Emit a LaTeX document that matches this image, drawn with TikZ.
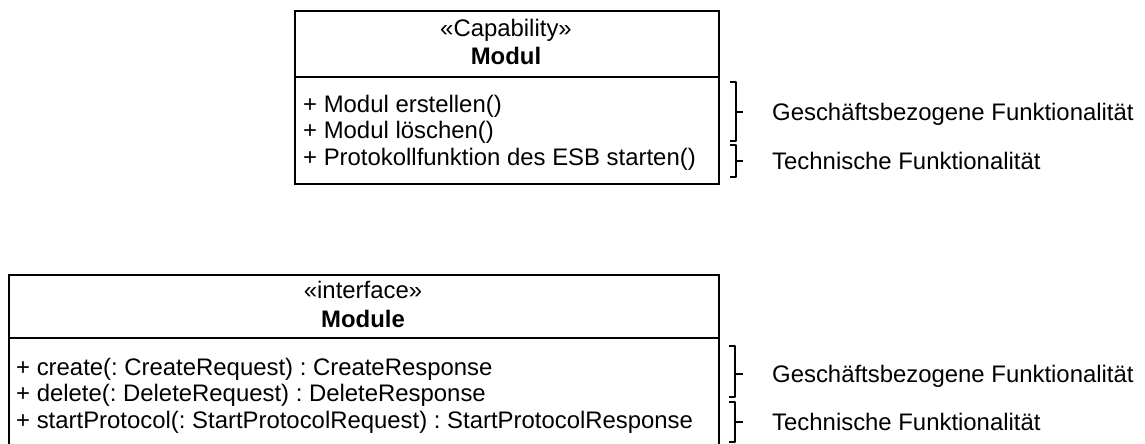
\documentclass[tikz,border=0pt]{standalone}
\usepackage{fontspec}
\setmainfont{Liberation Sans}
\frenchspacing
\begin{document}
\begin{tikzpicture}[x=1pt,y=-1pt,
  classbox/.style={draw=black, line width=2pt, anchor=north west, inner sep=0pt},
  sepline/.style={draw=black, line width=2pt},
  txt/.style={anchor=base west, inner sep=0pt, font=\fontsize{23.9}{28}\selectfont},
  hdr/.style={anchor=base, inner sep=0pt, font=\fontsize{23.9}{28}\selectfont},
  hdrb/.style={anchor=base, inner sep=0pt, font=\fontsize{23.9}{28}\selectfont\bfseries},
  bracepath/.style={draw=black, line width=2pt, line join=round, line cap=butt}]
\useasboundingbox (0,0) rectangle (1145,444);
\clip (0,0) rectangle (1145,444);

% ---------- top class ----------
\node[classbox, minimum width=424pt, minimum height=173pt] (capbox) at (294,10) {};
\coordinate (capsepL) at (294,77);
\coordinate (capsepR) at (718,77);
\draw[sepline] (capsepL) -- (capsepR);
\node[hdr] (capster) at (506,37) {«Capability»};
\node[hdrb] (capname) at (506,65) {Modul};
\node[txt] (capop1) at (303,112) {+ Modul erstellen()};
\node[txt] (capop2) at (303,138.5) {+ Modul löschen()};
\node[txt] (capop3) at (303,165) {+ Protokollfunktion des ESB starten()};

% braces top
\draw[bracepath] (730,82) -- (736,82) -- (736,141) -- (730,141);
\draw[bracepath] (736,112) -- (743,112);
\draw[bracepath] (730,145) -- (736,145) -- (736,177) -- (730,177);
\draw[bracepath] (736,161) -- (743,161);
\node[txt] (capgf) at (772,120.5) {Geschäftsbezogene Funktionalität};
\node[txt] (captf) at (772,169.5) {Technische Funktionalität};

% ---------- bottom interface ----------
\node[classbox, minimum width=710pt, minimum height=200pt] (ifbox) at (8,274) {};
\coordinate (ifsepL) at (8,338);
\coordinate (ifsepR) at (718,338);
\draw[sepline] (ifsepL) -- (ifsepR);
\node[hdr] (ifster) at (363,298) {«interface»};
\node[hdrb] (ifname) at (363,327) {Module};
\node[txt] (ifop1) at (16,375) {+ create(: CreateRequest) : CreateResponse};
\node[txt] (ifop2) at (16,401.5) {+ delete(: DeleteRequest) : DeleteResponse};
\node[txt] (ifop3) at (16,428) {+ startProtocol(: StartProtocolRequest) : StartProtocolResponse};

% braces bottom
\draw[bracepath] (729,346) -- (735,346) -- (735,397) -- (729,397);
\draw[bracepath] (735,374) -- (743,374);
\draw[bracepath] (729,402) -- (735,402) -- (735,442) -- (729,442);
\draw[bracepath] (735,422) -- (743,422);
\node[txt] (ifgf) at (772,382.5) {Geschäftsbezogene Funktionalität};
\node[txt] (iftf) at (772,430.5) {Technische Funktionalität};
\end{tikzpicture}
\end{document}
